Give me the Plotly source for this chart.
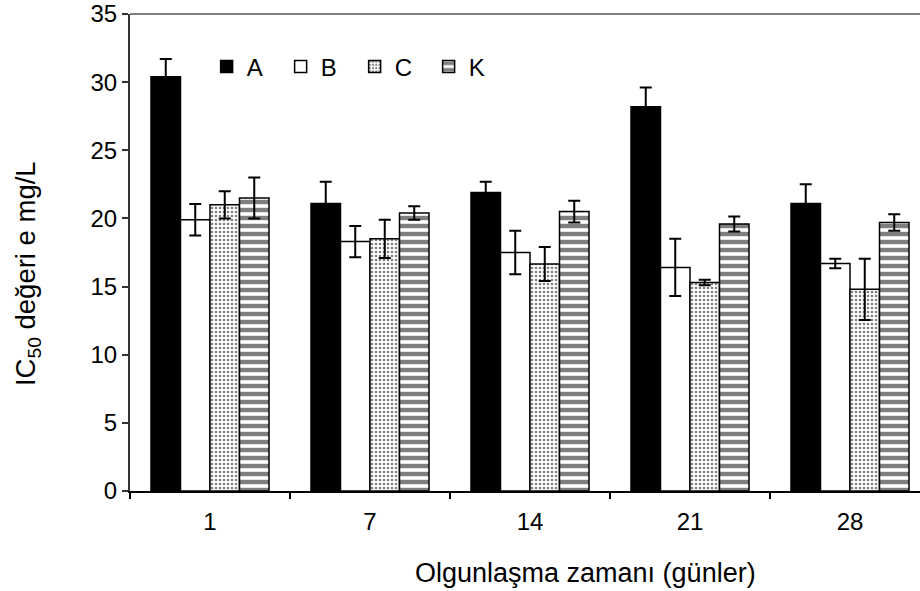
import plotly.graph_objects as go

categories = ["1", "7", "14", "21", "28"]
series_names = ["A", "B", "C", "K"]
values_A = [30.4, 21.1, 21.9, 28.2, 21.1]
values_B = [19.9, 18.3, 17.5, 16.4, 16.7]
values_C = [21.0, 18.5, 16.65, 15.3, 14.8]
values_K = [21.5, 20.4, 20.5, 19.6, 19.7]
err_A = [1.3, 1.6, 0.8, 1.4, 1.4]
err_B = [1.15, 1.15, 1.6, 2.1, 0.35]
err_C = [1.0, 1.4, 1.25, 0.2, 2.25]
err_K = [1.5, 0.5, 0.8, 0.55, 0.6]
y_ticks = [0, 5, 10, 15, 20, 25, 30, 35]

FONT = "Liberation Sans, Arial, sans-serif"

styles = [
    dict(color="black", pattern=None),
    dict(color="white", pattern=None),
    dict(color="white", pattern=dict(shape=".", fgcolor="black", bgcolor="white", size=4, solidity=0.35)),
    dict(color="white", pattern=dict(shape="-", fgcolor="black", bgcolor="white", size=8, solidity=0.55)),
]
vals = [values_A, values_B, values_C, values_K]
errs = [err_A, err_B, err_C, err_K]

fig = go.Figure()
for name, v, e, st in zip(series_names, vals, errs, styles):
    marker = dict(color=st["color"], line=dict(color="black", width=1.5))
    if st["pattern"] is not None:
        marker["pattern"] = st["pattern"]
    fig.add_trace(go.Bar(
        x=categories, y=v, name=name, marker=marker,
        error_y=dict(type="data", array=e, visible=True, color="black", thickness=2, width=6),
    ))

fig.update_layout(
    width=920, height=591,
    margin=dict(l=130, r=0, t=14, b=100),
    plot_bgcolor="white", paper_bgcolor="white",
    barmode="group", bargap=0.2625, bargroupgap=0,
    font=dict(family=FONT, size=24, color="black"),
    legend=dict(orientation="h", x=0.097, y=0.889, xanchor="left", yanchor="middle",
                font=dict(size=24), entrywidth=29, bgcolor="rgba(0,0,0,0)",
                traceorder="normal"),
    xaxis=dict(
        range=[-0.5, 4.4375], showline=True, linecolor="black", linewidth=1.5,
        ticks="outside", tickson="boundaries", ticklen=6, tickcolor="black", tickwidth=1.5,
        showgrid=False, zeroline=False, tickfont=dict(size=24), automargin=False,
        ticklabelstandoff=8,
    ),
    yaxis=dict(
        range=[0, 35], tickvals=y_ticks, ticktext=[str(t) for t in y_ticks],
        showline=True, linecolor="#333333", linewidth=2,
        ticks="outside", ticklen=6, tickcolor="#333333", tickwidth=1.5,
        showgrid=False, zeroline=False, tickfont=dict(size=24), automargin=False,
        ticklabeloverflow="allow",
    ),
    shapes=[dict(type="line", xref="paper", yref="paper", x0=0, x1=1, y0=1, y1=1,
                 line=dict(color="#808080", width=2))],
    annotations=[
        dict(text="Olgunlaşma zamanı (günler)", xref="paper", yref="paper",
             x=0.576, y=-0.172, xanchor="center", yanchor="middle", showarrow=False,
             font=dict(size=27)),
        dict(text="IC<sub>50</sub> değeri e mg/L", xref="paper", yref="paper",
             x=-0.129, y=0.455, xanchor="center", yanchor="middle", showarrow=False,
             textangle=-90, font=dict(size=27.5)),
    ],
)

fig.write_html("out.html", config={"displayModeBar": False},
               post_script="document.body.style.margin='0';")
